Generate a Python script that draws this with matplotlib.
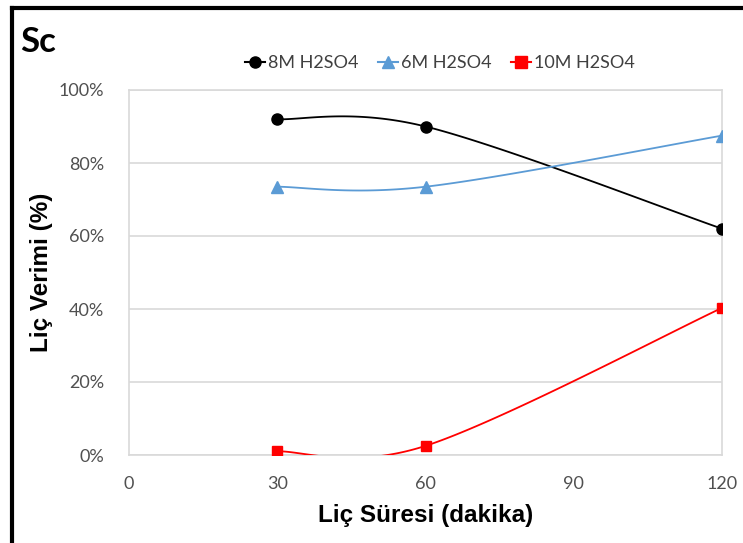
import numpy as np
import matplotlib
matplotlib.use("Agg")
import matplotlib.pyplot as plt
from matplotlib.lines import Line2D

# Leaching data: time (min) vs. yield (%)
times = [30, 60, 120]
yield_8m = [92.0, 90.0, 62.0]
yield_6m = [73.5, 73.5, 87.5]
yield_10m = [1.0, 2.5, 40.3]

series_names = ["8M H2SO4", "6M H2SO4", "10M H2SO4"]
series_colors = ["#000000", "#5B9BD5", "#FF0000"]
series_markers = ["o", "^", "s"]

x_ticks = [0, 30, 60, 90, 120]
y_ticks = [0, 20, 40, 60, 80, 100]


def smooth(xs, ys, n=60):
    """Cubic Bezier smoothing through points (spreadsheet-style smoothed line)."""
    pts = np.column_stack([xs, ys]).astype(float)
    ext = np.vstack([pts[0], pts, pts[-1]])
    out = []
    t = np.linspace(0, 1, n)[:, None]
    for i in range(len(pts) - 1):
        p0, p1 = ext[i + 1], ext[i + 2]
        c1 = p0 + (ext[i + 2] - ext[i]) / 6.0
        c2 = p1 - (ext[i + 3] - ext[i + 1]) / 6.0
        seg = ((1 - t) ** 3) * p0 + 3 * ((1 - t) ** 2) * t * c1 + 3 * (1 - t) * t ** 2 * c2 + t ** 3 * p1
        out.append(seg)
    curve = np.vstack(out)
    return curve[:, 0], curve[:, 1]


fig = plt.figure(figsize=(7.43, 5.43), dpi=100)
ax = fig.add_axes([129 / 743, 1 - 455 / 543, (722 - 129) / 743, (455 - 90) / 543])

for ys, name, col, mk in zip([yield_8m, yield_6m, yield_10m], series_names, series_colors, series_markers):
    sx, sy = smooth(times, ys)
    ax.plot(sx, sy, color=col, lw=1.3, solid_capstyle="round", zorder=3)
    ms = 8 if mk != "s" else 7.5
    ax.plot(times, ys, linestyle="none", marker=mk, color=col, markersize=ms, zorder=4)

ax.set_xlim(0, 120)
ax.set_ylim(0, 100)
ax.set_xticks(x_ticks)
ax.set_yticks(y_ticks)
ax.set_yticklabels([f"{v}%" for v in y_ticks])
ax.grid(axis="y", color="#D9D9D9", lw=1.2, zorder=0)
for s in ax.spines.values():
    s.set_color("#D9D9D9")
    s.set_linewidth(1.2)
ax.tick_params(axis="both", length=0, labelsize=13, labelcolor="#505050")
for lab in ax.get_xticklabels() + ax.get_yticklabels():
    lab.set_fontfamily("Lato")
ax.tick_params(axis="y", pad=18)
ax.tick_params(axis="x", pad=15)

ax.set_xlabel("Liç Süresi (dakika)", fontsize=17.5, fontweight="bold", family="Liberation Sans", labelpad=9)
ax.set_ylabel("Liç Verimi (%)", fontsize=17.5, fontweight="bold", family="Liberation Sans", labelpad=4)

# Title
fig.text(20 / 743, 1 - 42 / 543, "Sc", fontsize=25, fontweight="bold", family="Lato", va="center", ha="left")

# Legend
handles = [Line2D([0], [0], color=c, marker=m, lw=1.5, markersize=8) for c, m in zip(series_colors, series_markers)]
fig.legend(handles, series_names, loc="center", bbox_to_anchor=(440 / 743, 1 - 63 / 543), ncol=3,
           frameon=False, prop={"family": "Lato", "size": 13}, handlelength=1.1, handletextpad=0.15,
           columnspacing=1.1, labelcolor="#404040")

# Frame lines on the left and top edges
fig.add_artist(Line2D([12 / 743, 12 / 743], [0, 1 - 8 / 543], color="black", lw=3, transform=fig.transFigure))
fig.add_artist(Line2D([12 / 743, 1], [1 - 8 / 543, 1 - 8 / 543], color="black", lw=3, transform=fig.transFigure))

fig.savefig("out.png", dpi=100)
